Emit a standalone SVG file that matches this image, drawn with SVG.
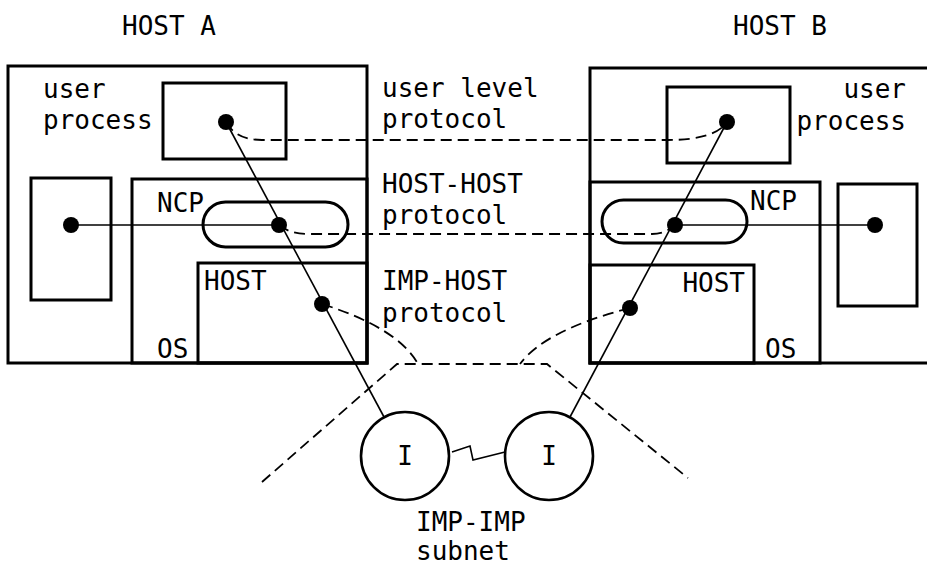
<svg xmlns="http://www.w3.org/2000/svg" width="927" height="566" viewBox="0 0 927 566">
  <style>
    .box { fill: none; stroke: #000; stroke-width: 3; }
    .pill { fill: none; stroke: #000; stroke-width: 3; }
    .wire { fill: none; stroke: #000; stroke-width: 1.6; }
    .dash { fill: none; stroke: #000; stroke-width: 1.8; stroke-dasharray: 11 6; }
    .dot { fill: #000; }
    .imp { fill: #fff; stroke: #000; stroke-width: 2.6; }
    text { font-family: "DejaVu Sans Mono", "Liberation Mono", monospace; font-size: 26px; fill: #000; }
  </style>
  <rect width="927" height="566" fill="#fff"/>

  <!-- Host A -->
  <g id="host-a">
    <text x="122" y="35">HOST A</text>
    <rect class="box" x="8" y="66" width="359" height="297"/>
    <text x="43" y="98">user</text>
    <text x="43" y="129">process</text>
  </g>
  <g id="host-a-user-process">
    <rect class="box" x="163" y="83" width="123" height="76"/>
  </g>
  <g id="host-a-side-process">
    <rect class="box" x="31" y="178" width="80" height="122"/>
  </g>
  <g id="host-a-os">
    <rect class="box" x="132" y="179" width="235" height="184"/>
    <text x="157" y="212">NCP</text>
    <text x="157" y="358">OS</text>
  </g>
  <g id="host-a-ncp">
    <rect class="pill" x="203" y="202" width="145" height="45" rx="22.5"/>
  </g>
  <g id="host-a-host">
    <rect class="box" x="198" y="263" width="169" height="100"/>
    <text x="204" y="290">HOST</text>
  </g>

  <!-- Host B (frame runs past the right edge) -->
  <g id="host-b">
    <text x="733" y="35">HOST B</text>
    <rect class="box" x="590" y="68" width="360" height="295"/>
    <text x="906" y="98" text-anchor="end">user</text>
    <text x="906" y="130" text-anchor="end">process</text>
  </g>
  <g id="host-b-user-process">
    <rect class="box" x="667" y="87" width="123" height="76"/>
  </g>
  <g id="host-b-side-process">
    <rect class="box" x="838" y="184" width="79" height="122"/>
  </g>
  <g id="host-b-os">
    <rect class="box" x="590" y="182" width="230" height="181"/>
    <text x="750" y="210">NCP</text>
    <text x="765" y="358">OS</text>
  </g>
  <g id="host-b-ncp">
    <rect class="pill" x="602" y="200" width="145" height="43" rx="21.5"/>
  </g>
  <g id="host-b-host">
    <rect class="box" x="590" y="265" width="164" height="98"/>
    <text x="745" y="292" text-anchor="end">HOST</text>
  </g>

  <!-- Protocol labels -->
  <g id="labels">
    <text x="382" y="97">user level</text>
    <text x="382" y="128">protocol</text>
    <text x="382" y="193">HOST-HOST</text>
    <text x="382" y="224">protocol</text>
    <text x="382" y="290">IMP-HOST</text>
    <text x="382" y="322">protocol</text>
  </g>

  <!-- Subnet -->
  <g id="subnet">
    <polyline class="dash" points="262,482 397,364 547,364 688,478"/>
    <text x="416" y="531">IMP-IMP</text>
    <text x="416" y="560">subnet</text>
  </g>

  <!-- Connectors -->
  <g id="connectors">
    <line class="wire" x1="226" y1="122" x2="384" y2="417"/>
    <line class="wire" x1="727" y1="122" x2="570" y2="417"/>
    <line class="wire" x1="71" y1="225" x2="279" y2="225"/>
    <line class="wire" x1="675" y1="225" x2="875" y2="225"/>
    <polyline class="wire" points="452,452 470,446 473,460 505,452" stroke-width="2.4"/>
    <path class="dash" d="M226,122 Q236,140 262,140 L668,140 Q715,140 727,122"/>
    <path class="dash" d="M279,225 Q290,234 308,234 L652,234 Q665,234 675,225"/>
    <path class="dash" d="M322,304 Q398,328 418,364"/>
    <path class="dash" d="M630,308 Q545,330 520,364"/>
  </g>

  <!-- IMPs -->
  <g id="imp-a">
    <circle class="imp" cx="405" cy="456" r="44"/>
    <text x="405" y="465" text-anchor="middle">I</text>
  </g>
  <g id="imp-b">
    <circle class="imp" cx="549" cy="456" r="44"/>
    <text x="549" y="465" text-anchor="middle">I</text>
  </g>

  <!-- Process endpoints -->
  <g id="endpoints">
    <circle class="dot" cx="226" cy="122" r="8"/>
    <circle class="dot" cx="71" cy="225" r="8"/>
    <circle class="dot" cx="279" cy="225" r="8"/>
    <circle class="dot" cx="322" cy="304" r="8"/>
    <circle class="dot" cx="727" cy="122" r="8"/>
    <circle class="dot" cx="875" cy="225" r="8"/>
    <circle class="dot" cx="675" cy="225" r="8"/>
    <circle class="dot" cx="630" cy="308" r="8"/>
  </g>
</svg>
